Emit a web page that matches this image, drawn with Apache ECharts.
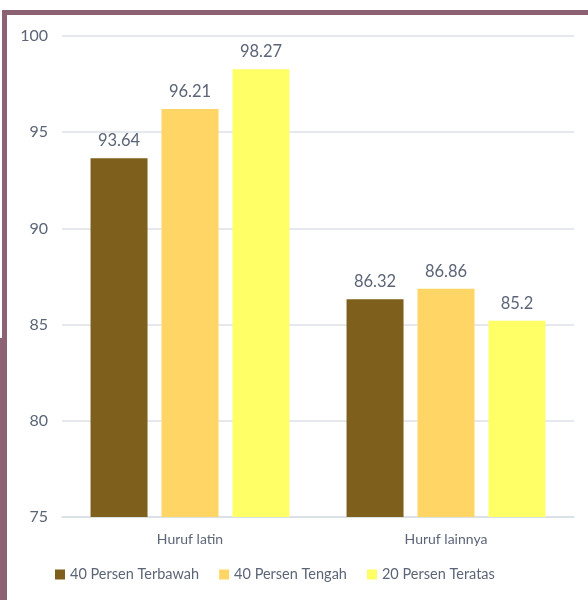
<!DOCTYPE html>
<html><head><meta charset="utf-8">
<script src="https://cdn.jsdelivr.net/npm/echarts@6/dist/echarts.min.js"></script>
<style>html,body{margin:0;padding:0;background:#fff}#c{width:588px;height:600px}</style>
</head><body><div id="c"></div>
<script>
const categories = ["Huruf latin", "Huruf lainnya"];
const seriesNames = ["40 Persen Terbawah", "40 Persen Tengah", "20 Persen Teratas"];
const bottom40 = [93.64, 86.32];
const middle40 = [96.21, 86.86];
const top20 = [98.27, 85.2];
const yTicks = [75, 80, 85, 90, 95, 100];
const colors = ["#7F5F1C", "#FFD666", "#FFFF66"];

const chart = echarts.init(document.getElementById('c'));
const txt = '#5B6577';
const font = 'Lato, "DejaVu Sans", sans-serif';
const values = [bottom40, middle40, top20];
chart.setOption({
  animation: false,
  textStyle: {fontFamily: font},
  graphic: [
    {type: 'rect', shape: {x: 2, y: 10, width: 586, height: 5}, style: {fill: '#8C6272'}, silent: true},
    {type: 'rect', shape: {x: 2, y: 10, width: 5, height: 330}, style: {fill: '#8C6272'}, silent: true},
    {type: 'rect', shape: {x: 0, y: 338, width: 7, height: 262}, style: {fill: '#8C6272'}, silent: true}
  ],
  grid: {left: 62, right: 14, top: 36, bottom: 83, containLabel: false},
  legend: {
    bottom: 13, left: 50,
    itemWidth: 10, itemHeight: 10, itemGap: 20,
    icon: 'rect',
    textStyle: {color: txt, fontSize: 14.5, fontFamily: font},
    data: seriesNames
  },
  xAxis: {
    type: 'category', data: categories,
    axisLine: {lineStyle: {color: '#D9DEE6', width: 1.5}},
    axisTick: {show: false},
    axisLabel: {color: txt, fontSize: 14, margin: 15, fontFamily: font}
  },
  yAxis: {
    type: 'value', min: yTicks[0], max: yTicks[yTicks.length - 1], interval: 5,
    axisLine: {show: false}, axisTick: {show: false},
    splitLine: {lineStyle: {color: '#DDE2E9', width: 1.5}},
    axisLabel: {color: txt, fontSize: 16, margin: 14, fontFamily: font}
  },
  series: seriesNames.map((n, i) => ({
    name: n, type: 'bar', data: values[i],
    barWidth: 57, barGap: '24.5%', barCategoryGap: '22%',
    itemStyle: {color: colors[i]},
    label: {show: true, position: 'top', distance: 9, color: txt, fontSize: 16.5, fontFamily: font}
  }))
});
</script></body></html>
